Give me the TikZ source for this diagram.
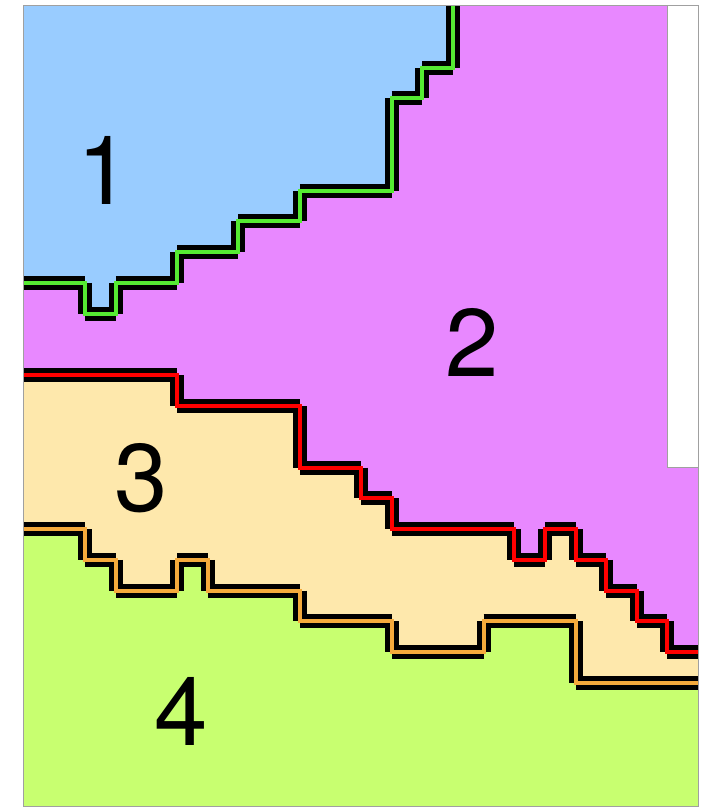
\documentclass[tikz,border=0pt]{standalone}
\usepackage{fontspec}
\setmainfont{TeX Gyre Heros}
\definecolor{zoneone}{RGB}{153,204,255}
\definecolor{zonetwo}{RGB}{232,136,255}
\definecolor{zonethree}{RGB}{254,232,172}
\definecolor{zonefour}{RGB}{200,255,112}
\definecolor{seamgreen}{RGB}{85,235,50}
\definecolor{seamorange}{RGB}{245,170,60}
\definecolor{framegray}{RGB}{160,160,160}
\tikzset{
  edgebar/.style={line width=14pt, black, line cap=butt},
  seamline/.style={line width=4pt, line join=miter},
  zonelabel/.style={font=\fontsize{96}{96}\selectfont}
}
% grid corners of the three borders (column/row)
\def\bordera{0/9,2/9,2/10,3/10,3/9,5/9,5/8,7/8,7/7,9/7,9/6,12/6,12/3,13/3,13/2,14/2,14/0}
\def\borderb{0/12,5/12,5/13,9/13,9/15,11/15,11/16,12/16,12/17,16/17,16/18,17/18,17/17,18/17,18/18,19/18,19/19,20/19,20/20,21/20,21/21,22/21}
\def\borderc{0/17,2/17,2/18,3/18,3/19,5/19,5/18,6/18,6/19,9/19,9/20,12/20,12/21,15/21,15/20,18/20,18/22,22/22}

\begin{document}
\begin{tikzpicture}[x=30.64pt, y=-30.77pt]
  \useasboundingbox (-0.783,-0.195) rectangle (22.585,26.097);
  % zones, bottom one first
  \fill[zonefour] (0,0) rectangle (22,26);
  \fill[zonethree] (0,0) \foreach \x/\y in \borderc {-- (\x,\y)} -- (22,0) -- cycle;
  \fill[zonetwo] (0,0) \foreach \x/\y in \borderb {-- (\x,\y)} -- (22,0) -- cycle;
  \fill[zoneone] (0,0) \foreach \x/\y in \bordera {-- (\x,\y)} -- cycle;
  % empty strip top right
  \draw[framegray, fill=white, line width=1pt] (21,0) rectangle (22,15);
  % black bars, one per cell edge
  \foreach \x/\y [remember=\x as \lx (initially 0), remember=\y as \ly (initially 9)] in \bordera
    \draw[edgebar] (\lx,\ly) -- (\x,\y);
  \foreach \x/\y [remember=\x as \lx (initially 0), remember=\y as \ly (initially 12)] in \borderb
    \draw[edgebar] (\lx,\ly) -- (\x,\y);
  \foreach \x/\y [remember=\x as \lx (initially 0), remember=\y as \ly (initially 17)] in \borderc
    \draw[edgebar] (\lx,\ly) -- (\x,\y);
  % coloured borders
  \draw[seamline, seamgreen] (0,9) \foreach \x/\y in \bordera {-- (\x,\y)};
  \draw[seamline, red] (0,12) \foreach \x/\y in \borderb {-- (\x,\y)};
  \draw[seamline, seamorange] (0,17) \foreach \x/\y in \borderc {-- (\x,\y)};
  % frame
  \draw[framegray, line width=1pt] (0,0) rectangle (22,26);
  % zone numbers
  \node[zonelabel] (one) at (2.61,5.36) {1};
  \node[zonelabel] (two) at (14.62,10.92) {2};
  \node[zonelabel] (three) at (3.82,15.34) {3};
  \node[zonelabel] (four) at (5.12,22.94) {4};
\end{tikzpicture}
\end{document}
